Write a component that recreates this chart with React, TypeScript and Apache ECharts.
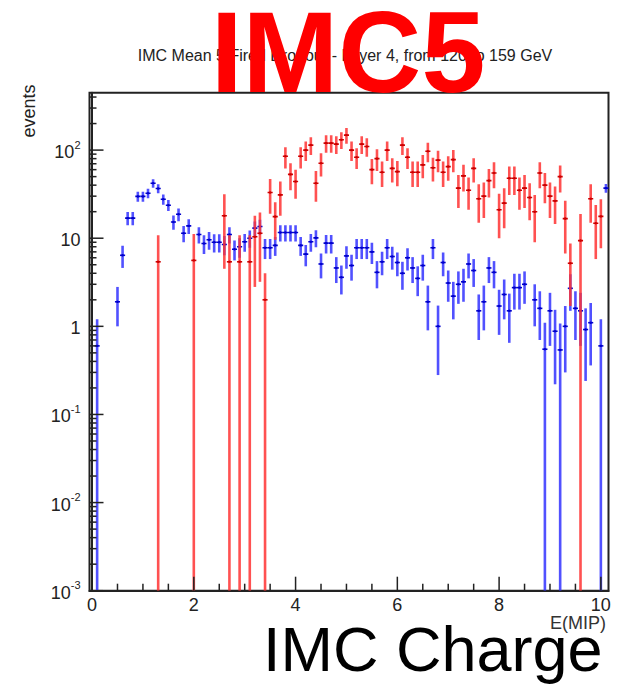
import React, { useEffect, useRef } from "react";
import * as echarts from "echarts";

// ---- Blue histogram (bin centre, content, error) ----
const blueX = [
  0.1, 0.5, 0.6, 0.7, 0.8, 0.9, 1.0, 1.1, 1.2, 1.3,
  1.4, 1.5, 1.6, 1.7, 1.8, 1.9, 2.1, 2.2, 2.3, 2.4,
  2.5, 2.6, 2.7, 2.8, 2.9, 3.0, 3.1, 3.2, 3.3, 3.4,
  3.5, 3.6, 3.7, 3.8, 3.9, 4.0, 4.1, 4.2, 4.3, 4.4,
  4.5, 4.6, 4.7, 4.8, 4.9, 5.0, 5.1, 5.2, 5.3, 5.4,
  5.5, 5.6, 5.7, 5.8, 5.9, 6.0, 6.1, 6.2, 6.3, 6.4,
  6.5, 6.6, 6.7, 6.8, 6.9, 7.0, 7.1, 7.2, 7.3, 7.4,
  7.5, 7.6, 7.7, 7.8, 7.9, 8.0, 8.1, 8.2, 8.3, 8.4,
  8.5, 8.7, 8.8, 8.9, 9.0, 9.1, 9.2, 9.3, 9.4, 9.5,
  9.6, 9.7, 9.8, 10.0, 10.1,
];
const blueY = [
  0.6, 1.9, 6.4, 16.9, 16.9, 29.8, 29.8, 32.4, 42, 36.7,
  27.7, 23.7, 15.3, 18.7, 11.4, 13.8, 11, 8.7, 9.6, 9,
  9, 8.5, 11, 7.5, 8, 9.1, 10, 13, 13.6, 7.8,
  7.8, 8.3, 11.6, 11.6, 11.6, 11.6, 8.3, 6.6, 9.1, 10.1,
  5.1, 8.8, 8.8, 4.6, 3.6, 6.3, 4.9, 7.8, 7.8, 7.8,
  7.0, 4.1, 5.4, 7.8, 6.2, 5.3, 4.0, 6.0, 4.6, 3.5,
  4.9, 1.9, 7.8, 1.0, 5.3, 3.1, 2.2, 3.0, 3.2, 5.1,
  4.3, 1.5, 1.9, 4.6, 4.1, 1.7, 2.3, 1.5, 2.75, 2.75,
  3.0, 2.0, 1.6, 0.55, 1.5, 0.88, 0.54, 1.0, 2.7, 1.6,
  1.5, 0.92, 1.1, 0.6, 37,
];
const blueErr = [
  0.6, 0.9, 1.8, 2.9, 2.9, 3.9, 3.9, 4.0, 4.6, 4.3,
  3.7, 3.4, 2.8, 3.1, 2.4, 2.6, 2.3, 2.1, 2.2, 2.1,
  2.1, 2.1, 2.3, 1.9, 2.0, 2.1, 2.2, 2.5, 2.6, 2.0,
  2.0, 2.0, 2.4, 2.4, 2.4, 2.4, 2.0, 1.8, 2.1, 2.2,
  1.6, 2.1, 2.1, 1.5, 1.3, 1.8, 1.6, 2.0, 2.0, 2.0,
  1.9, 1.4, 1.6, 2.0, 1.8, 1.6, 1.4, 1.7, 1.5, 1.3,
  1.6, 1.0, 2.0, 0.72, 1.6, 1.2, 1.0, 1.2, 1.3, 1.6,
  1.5, 0.8, 1.0, 1.5, 1.4, 0.9, 1.1, 0.85, 1.2, 1.2,
  1.2, 1.0, 0.9, 0.55, 0.9, 0.66, 0.54, 0.7, 1.2, 0.9,
  0.9, 0.68, 0.74, 0.6, 4.3,
];

// ---- Red histogram ----
const redX = [
  1.3, 2.0, 2.6, 2.7, 2.9, 3.1, 3.2, 3.3, 3.4, 3.5,
  3.6, 3.7, 3.8, 3.9, 4.0, 4.1, 4.2, 4.3, 4.4, 4.5,
  4.6, 4.7, 4.8, 4.9, 5.0, 5.1, 5.2, 5.3, 5.4, 5.5,
  5.6, 5.7, 5.8, 5.9, 6.0, 6.1, 6.2, 6.3, 6.4, 6.5,
  6.6, 6.7, 6.8, 6.9, 7.0, 7.1, 7.2, 7.3, 7.4, 7.5,
  7.6, 7.7, 7.8, 7.9, 8.0, 8.1, 8.2, 8.3, 8.4, 8.5,
  8.6, 8.7, 8.8, 8.9, 9.0, 9.1, 9.2, 9.3, 9.4, 9.6,
  9.8, 9.9, 10.0,
];
const redY = [
  5.4, 5.6, 18, 5.4, 5.4, 5.4, 10.4, 11.4, 2.0, 33,
  17.6, 31, 85, 53, 44, 85, 100, 114, 42, 71,
  120, 120, 117, 131, 148, 100, 83, 117, 110, 60,
  80, 56, 100, 62, 57, 114, 83, 56, 56, 68,
  97, 63, 77, 56, 65, 78, 37, 51, 35, 62,
  28, 30, 45, 55, 21, 25, 48, 48, 35, 37,
  29, 20, 55, 40, 30, 26.5, 50, 16.7, 5.2, 9.4,
  28, 14.8, 17.7,
];
const redErr = [
  5.4, 5.6, 13.5, 5.4, 5.4, 5.4, 7.6, 8.2, 2.0, 14,
  8, 13, 23, 18, 16, 23, 25, 26, 16, 21,
  27, 27, 27, 28, 30, 25, 22, 27, 26, 19,
  22, 18, 25, 19, 18, 26, 22, 18, 18, 20,
  24, 19, 21, 18, 20, 22, 15, 17, 14, 19,
  13, 13, 16, 18, 11, 12, 17, 17, 14, 15,
  13, 11, 18, 15, 13, 12, 17, 10, 3.5, 9.4,
  13, 9, 10,
];

// ---- Axis ticks ----
const xMajorTicks = [0, 2, 4, 6, 8, 10];
const xMinorTicks = [0.5, 1, 1.5, 2.5, 3, 3.5, 4.5, 5, 5.5, 6.5, 7, 7.5, 8.5, 9, 9.5];
const yDecades = [-3, -2, -1, 0, 1, 2];
const yMinorMultipliers = [2, 3, 4, 5, 6, 7, 8, 9];

const X_MIN = -0.05;
const X_MAX = 10.15;
const Y_MIN = 0.001;
const Y_MAX = 448;
const HALF_BIN = 0.05;
const FONT = "'Liberation Sans', Arial, Helvetica, sans-serif";

function errorBarSeries(name: string, xs: number[], ys: number[], es: number[], color: string, dark: string) {
  return {
    type: "custom",
    name,
    clip: true,
    data: xs.map((x, i) => [x, ys[i], es[i]]),
    encode: { x: 0, y: 1 },
    renderItem: (_params: any, api: any) => {
      const x = api.value(0);
      const v = api.value(1);
      const e = api.value(2);
      const lo = Math.max(v - e, Y_MIN);
      const hi = v + e;
      const pc = api.coord([x, v]);
      const plo = api.coord([x, lo]);
      const phi = api.coord([x, hi]);
      const pl = api.coord([x - HALF_BIN, v]);
      const pr = api.coord([x + HALF_BIN, v]);
      return {
        type: "group",
        children: [
          {
            type: "line",
            shape: { x1: pc[0], y1: plo[1], x2: pc[0], y2: phi[1] },
            style: { stroke: color, lineWidth: 2.6, opacity: 0.85 },
          },
          {
            type: "line",
            shape: { x1: pl[0], y1: pc[1], x2: pr[0], y2: pc[1] },
            style: { stroke: dark, lineWidth: 1.6 },
          },
          {
            type: "circle",
            shape: { cx: pc[0], cy: pc[1], r: 1.2 },
            style: { fill: dark },
          },
        ],
      };
    },
  };
}

export default function App() {
  const ref = useRef<HTMLDivElement>(null);

  useEffect(() => {
    if (!ref.current) return;
    const chart = echarts.init(ref.current, undefined, { renderer: "svg" });

    const xTickData = [
      ...xMajorTicks.map((v) => [v, Y_MIN, 14]),
      ...xMinorTicks.map((v) => [v, Y_MIN, 7]),
    ];
    const yTickData: number[][] = [];
    yDecades.forEach((d) => {
      yTickData.push([X_MIN, Math.pow(10, d), 14]);
      yMinorMultipliers.forEach((m) => {
        const v = m * Math.pow(10, d);
        if (v < Y_MAX) yTickData.push([X_MIN, v, 7]);
      });
    });

    const option: any = {
      animation: false,
      backgroundColor: "#ffffff",
      grid: {
        left: 89.5,
        right: 18.5,
        top: 92.7,
        bottom: 94.3,
        show: true,
        borderColor: "#222",
        borderWidth: 2,
        backgroundColor: "transparent",
      },
      xAxis: {
        type: "value",
        min: X_MIN,
        max: X_MAX,
        splitNumber: 5,
        splitLine: { show: false },
        axisLine: { show: true, lineStyle: { color: "#222", width: 2 } },
        axisTick: { show: false },
        axisLabel: {
          margin: 5,
          fontSize: 18,
          fontFamily: FONT,
          color: "#222",
          formatter: (v: number) => {
            const r = Math.round(v);
            if (Math.abs(v - r) > 1e-6 || !xMajorTicks.includes(r)) return "";
            return String(r);
          },
        },
      },
      yAxis: {
        type: "log",
        logBase: 10,
        min: Y_MIN,
        max: Y_MAX,
        splitLine: { show: false },
        axisLine: { show: true, lineStyle: { color: "#222", width: 2 } },
        axisTick: { show: false },
        axisLabel: {
          margin: 9,
          color: "#222",
          fontFamily: FONT,
          formatter: (v: number) => {
            const e = Math.log10(v);
            const r = Math.round(e);
            if (Math.abs(e - r) > 1e-4 || !yDecades.includes(r)) return "";
            if (r === 0) return "{b|1}";
            if (r === 1) return "{b|10}";
            return `{b|10}{s|${r}}`;
          },
          rich: {
            b: { fontSize: 18, fontFamily: FONT, color: "#222", lineHeight: 22, verticalAlign: "bottom" },
            s: { fontSize: 11, fontFamily: FONT, color: "#222", lineHeight: 12, verticalAlign: "top" },
          },
        },
      },
      series: [
        errorBarSeries("blue", blueX, blueY, blueErr, "#3333ff", "#0000cc"),
        errorBarSeries("red", redX, redY, redErr, "#ff3333", "#cc0000"),
        {
          type: "custom",
          name: "xticks",
          clip: false,
          silent: true,
          data: xTickData,
          encode: { x: 0, y: 1 },
          renderItem: (_p: any, api: any) => {
            const p = api.coord([api.value(0), api.value(1)]);
            const len = api.value(2);
            return {
              type: "line",
              shape: { x1: p[0], y1: p[1], x2: p[0], y2: p[1] - len },
              style: { stroke: "#222", lineWidth: 1.5 },
            };
          },
        },
        {
          type: "custom",
          name: "yticks",
          clip: false,
          silent: true,
          data: yTickData,
          encode: { x: 0, y: 1 },
          renderItem: (_p: any, api: any) => {
            const p = api.coord([api.value(0), api.value(1)]);
            const len = api.value(2);
            return {
              type: "line",
              shape: { x1: p[0], y1: p[1], x2: p[0] + len, y2: p[1] },
              style: { stroke: "#222", lineWidth: 1.5 },
            };
          },
        },
      ],
      graphic: [
        {
          type: "text",
          x: 345,
          y: 55.5,
          z: 50,
          style: {
            text: "IMC Mean 5 Fired Dropout - Layer 4, from 120 to 159 GeV",
            fontSize: 16,
            fontFamily: FONT,
            fill: "#222",
            textAlign: "center",
            textVerticalAlign: "middle",
          },
        },
        {
          type: "text",
          x: 29,
          y: 111,
          rotation: Math.PI / 2,
          z: 50,
          style: {
            text: "events",
            fontSize: 18,
            fontFamily: FONT,
            fill: "#222",
            textAlign: "center",
            textVerticalAlign: "middle",
          },
        },
        {
          type: "text",
          x: 606,
          y: 623,
          z: 50,
          style: {
            text: "E(MIP)",
            fontSize: 18,
            fontFamily: FONT,
            fill: "#333",
            textAlign: "right",
            textVerticalAlign: "middle",
          },
        },
        {
          type: "text",
          x: 348,
          y: 52,
          z: 100,
          style: {
            text: "IMC5",
            fontSize: 115,
            lineHeight: 90,
            fontWeight: "bold",
            fontFamily: FONT,
            fill: "#ff0000",
            textAlign: "center",
            textVerticalAlign: "middle",
          },
        },
        {
          type: "text",
          x: 263,
          y: 649,
          z: 100,
          style: {
            text: "IMC Charge",
            fontSize: 63,
            fontFamily: FONT,
            fill: "#000",
            textAlign: "left",
            textVerticalAlign: "middle",
          },
        },
      ],
    };

    chart.setOption(option);
    return () => chart.dispose();
  }, []);

  return (
    <div
      ref={ref}
      style={{ position: "fixed", left: 0, top: 0, width: 627, height: 685, background: "#fff" }}
    />
  );
}
